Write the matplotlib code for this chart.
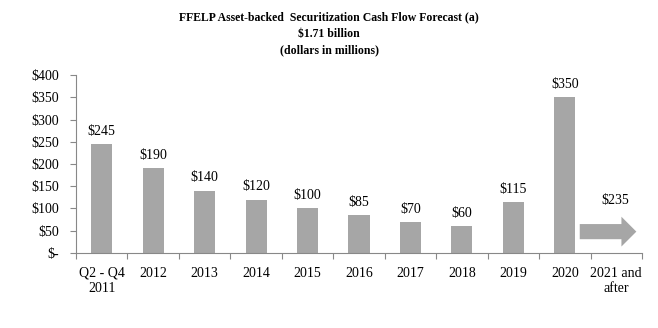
import matplotlib
matplotlib.use("Agg")
import matplotlib.pyplot as plt
from matplotlib.patches import FancyArrow
import numpy as np

categories = ["Q2 - Q4\n2011", "2012", "2013", "2014", "2015", "2016", "2017",
              "2018", "2019", "2020", "2021 and\nafter"]
bar_values = [245, 190, 140, 120, 100, 85, 70, 60, 115, 350]
arrow_value = 235
yticks = [0, 50, 100, 150, 200, 250, 300, 350, 400]
ytick_labels = ["$-", "$50", "$100", "$150", "$200", "$250", "$300", "$350", "$400"]

plt.rcParams['font.family'] = ['Liberation Serif', 'DejaVu Serif']

fig = plt.figure(figsize=(6.58, 3.28), dpi=100)
ax = fig.add_axes([0.1155, 0.2287, 0.8602, 0.5426])

color = "#a6a6a6"
x = np.arange(len(bar_values))
ax.bar(x, bar_values, width=0.41, color=color)
for xi, v in zip(x, bar_values):
    ax.text(xi, v + 14, f"${v}", ha="center", va="bottom", fontsize=10)

# arrow for "2021 and after"
ax.add_patch(FancyArrow(9.29, 48, 1.1, 0, width=34, head_width=67,
                        head_length=0.29, length_includes_head=True,
                        color=color, lw=0))
ax.text(9.98, 103, f"${arrow_value}", ha="center", va="bottom", fontsize=10)

ax.set_xlim(-0.5, len(categories) - 0.5)
ax.set_ylim(0, 400)
ax.set_yticks(yticks)
ax.set_yticklabels(ytick_labels, fontsize=10)
ax.set_xticks(np.arange(len(categories) + 1) - 0.5)
ax.set_xticklabels([])
ax.set_xticks(np.arange(len(categories)), minor=True)
ax.set_xticklabels(categories, minor=True, fontsize=10)
ax.tick_params(axis="x", which="minor", length=0, pad=10)
ax.tick_params(axis="x", which="major", length=4, color="#888888", direction="out")
ax.tick_params(axis="y", length=4, color="#888888", direction="out", pad=8)
for s in ["top", "right"]:
    ax.spines[s].set_visible(False)
for s in ["left", "bottom"]:
    ax.spines[s].set_color("#888888")
    ax.spines[s].set_linewidth(0.8)

fig.text(0.5, 0.947, "FFELP Asset-backed  Securitization Cash Flow Forecast (a)",
         ha="center", va="center", fontsize=8.5, fontweight="bold")
fig.text(0.5, 0.897, "$1.71 billion", ha="center", va="center", fontsize=8.5, fontweight="bold")
fig.text(0.5, 0.847, "(dollars in millions)", ha="center", va="center", fontsize=8.5, fontweight="bold")

fig.savefig("out.png", dpi=100)
